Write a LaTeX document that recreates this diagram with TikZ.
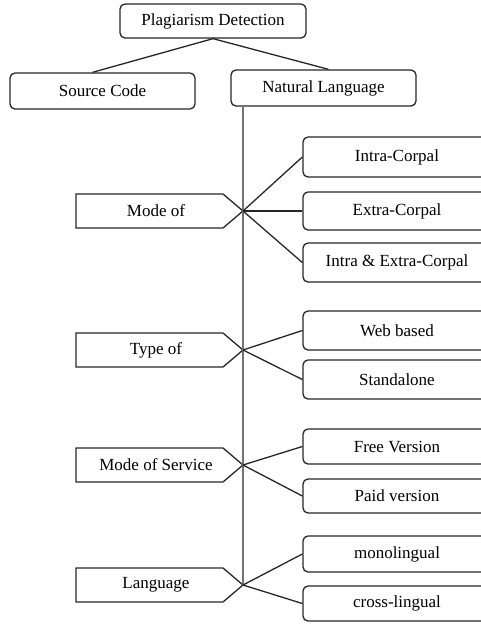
\documentclass[tikz,border=0pt]{standalone}
\usepackage{fontspec}
\setmainfont{Liberation Serif}
\usetikzlibrary{calc}
\tikzset{
  box/.style={draw=black!85, line width=1.3pt, rounded corners=5pt, inner sep=0pt, font=\fontsize{17}{19}\selectfont},
  rbox/.style={box, minimum width=188pt},
  lbl/.style={inner sep=0pt, font=\fontsize{17}{19}\selectfont},
  pent/.style={draw=black!85, line width=1.3pt, line join=miter},
  conn/.style={draw=black!85, line width=1.3pt},
  trunk/.style={draw=black!55, line width=1.6pt}
}
\newcommand\pentnode[3]{%
  \node[lbl] (#1) at (156,#2) {#3};
  \draw[pent] (76,#2-17) -- (223,#2-17) -- (243,#2) -- (223,#2+17) -- (76,#2+17) -- cycle;
  \coordinate (#1tip) at (243,#2);
}
\begin{document}
\begin{tikzpicture}[x=1pt,y=-1pt]
\useasboundingbox (0,0) rectangle (481,625);
\clip (0,0) rectangle (481,625);
% top
\node[box, minimum width=186pt, minimum height=34pt] (pd) at (213,21) {Plagiarism Detection};
\node[box, minimum width=185pt, minimum height=36pt] (sc) at (102.5,91) {Source Code};
\node[box, minimum width=185pt, minimum height=36pt] (nl) at (323.5,88) {Natural Language};
\draw[conn] (pd.south) -- ($(sc.north)+(-10,0)$);
\draw[conn] (pd.south) -- ($(nl.north)+(5,0)$);
% left nodes
\pentnode{mo}{211}{Mode of}
\pentnode{ty}{350}{Type of}
\pentnode{ms}{465}{Mode of Service}
\pentnode{la}{585}{Language}
% trunk
\draw[trunk] (nl.south -| latip) -- (latip);
% right boxes
\node[rbox, minimum height=40pt] (ic) at (397,157) {Intra-Corpal};
\node[rbox, minimum height=38pt] (ec) at (397,211) {Extra-Corpal};
\node[rbox, minimum height=39pt] (iec) at (397,262.5) {Intra \& Extra-Corpal};
\node[rbox, minimum height=39pt] (wb) at (397,330.5) {Web based};
\node[rbox, minimum height=39pt] (sa) at (397,379.5) {Standalone};
\node[rbox, minimum height=35pt] (fv) at (397,446.5) {Free Version};
\node[rbox, minimum height=34pt] (pv) at (397,496) {Paid version};
\node[rbox, minimum height=36pt] (ml) at (397,554) {monolingual};
\node[rbox, minimum height=35pt] (cl) at (397,603.5) {cross-lingual};
% connectors
\draw[conn] (motip) -- (ic.west);
\draw[conn] (motip) -- (ec.west);
\draw[conn] (motip) -- (iec.west);
\draw[conn] (tytip) -- (wb.west);
\draw[conn] (tytip) -- (sa.west);
\draw[conn] (mstip) -- (fv.west);
\draw[conn] (mstip) -- (pv.west);
\draw[conn] (latip) -- (ml.west);
\draw[conn] (latip) -- (cl.west);
\end{tikzpicture}
\end{document}
